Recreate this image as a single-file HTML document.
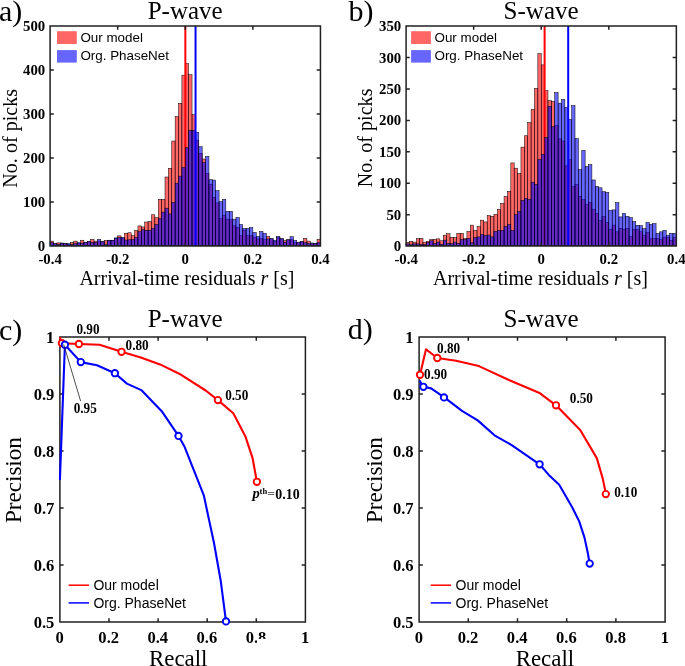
<!DOCTYPE html>
<html><head><meta charset="utf-8"><style>
html,body{margin:0;padding:0;background:#fff;}
svg{display:block;}
svg{will-change:transform}
</style></head><body>
<svg width="685" height="666" viewBox="0 0 685 666">
<rect width="685" height="666" fill="#fff"/>
<g fill="#ff0000" fill-opacity="0.6" stroke="#000" stroke-width="0.5"><rect x="50.1" y="241.11" width="3.38" height="4.39"/><rect x="53.48" y="243.74" width="3.38" height="1.76"/><rect x="56.86" y="242.87" width="3.38" height="2.63"/><rect x="60.24" y="243.09" width="3.38" height="2.41"/><rect x="63.62" y="243.61" width="3.38" height="1.89"/><rect x="67" y="244.4" width="3.38" height="1.1"/><rect x="70.38" y="242.43" width="3.38" height="3.07"/><rect x="73.76" y="241.11" width="3.38" height="4.39"/><rect x="77.13" y="243.31" width="3.38" height="2.19"/><rect x="80.51" y="240.23" width="3.38" height="5.27"/><rect x="83.89" y="242.43" width="3.38" height="3.07"/><rect x="87.27" y="241.55" width="3.38" height="3.95"/><rect x="90.65" y="239.35" width="3.38" height="6.15"/><rect x="94.03" y="241.11" width="3.38" height="4.39"/><rect x="97.41" y="241.11" width="3.38" height="4.39"/><rect x="100.79" y="241.72" width="3.38" height="3.78"/><rect x="104.17" y="240.45" width="3.38" height="5.05"/><rect x="107.55" y="240.23" width="3.38" height="5.27"/><rect x="110.93" y="240.23" width="3.38" height="5.27"/><rect x="114.31" y="238.04" width="3.38" height="7.46"/><rect x="117.69" y="235.84" width="3.38" height="9.66"/><rect x="121.07" y="238.04" width="3.38" height="7.46"/><rect x="124.45" y="233.21" width="3.38" height="12.29"/><rect x="127.83" y="232.77" width="3.38" height="12.73"/><rect x="131.2" y="235.58" width="3.38" height="9.92"/><rect x="134.58" y="230.57" width="3.38" height="14.93"/><rect x="137.96" y="225.92" width="3.38" height="19.58"/><rect x="141.34" y="226.93" width="3.38" height="18.57"/><rect x="144.72" y="222.01" width="3.38" height="23.49"/><rect x="148.1" y="221.57" width="3.38" height="23.93"/><rect x="151.48" y="214.77" width="3.38" height="30.73"/><rect x="154.86" y="217.58" width="3.38" height="27.92"/><rect x="158.24" y="199.41" width="3.38" height="46.09"/><rect x="161.62" y="199.41" width="3.38" height="46.09"/><rect x="165" y="177.02" width="3.38" height="68.48"/><rect x="168.38" y="168.24" width="3.38" height="77.26"/><rect x="171.76" y="141.02" width="3.38" height="104.48"/><rect x="175.14" y="116.43" width="3.38" height="129.07"/><rect x="178.52" y="103.26" width="3.38" height="142.24"/><rect x="181.9" y="75.17" width="3.38" height="170.33"/><rect x="185.27" y="63.31" width="3.38" height="182.19"/><rect x="188.65" y="74.73" width="3.38" height="170.77"/><rect x="192.03" y="114.68" width="3.38" height="130.82"/><rect x="195.41" y="140.14" width="3.38" height="105.36"/><rect x="198.79" y="153.31" width="3.38" height="92.19"/><rect x="202.17" y="159.02" width="3.38" height="86.48"/><rect x="205.55" y="173.5" width="3.38" height="72"/><rect x="208.93" y="184.48" width="3.38" height="61.02"/><rect x="212.31" y="197.21" width="3.38" height="48.29"/><rect x="215.69" y="202.92" width="3.38" height="42.58"/><rect x="219.07" y="218.72" width="3.38" height="26.78"/><rect x="222.45" y="215.21" width="3.38" height="30.29"/><rect x="225.83" y="219.16" width="3.38" height="26.34"/><rect x="229.21" y="219.6" width="3.38" height="25.9"/><rect x="232.59" y="225.75" width="3.38" height="19.75"/><rect x="235.97" y="227.5" width="3.38" height="18"/><rect x="239.34" y="235.4" width="3.38" height="10.1"/><rect x="242.72" y="230.13" width="3.38" height="15.37"/><rect x="246.1" y="235.4" width="3.38" height="10.1"/><rect x="249.48" y="235.4" width="3.38" height="10.1"/><rect x="252.86" y="237.16" width="3.38" height="8.34"/><rect x="256.24" y="238.91" width="3.38" height="6.58"/><rect x="259.62" y="238.48" width="3.38" height="7.02"/><rect x="263" y="239.57" width="3.38" height="5.93"/><rect x="266.38" y="236.28" width="3.38" height="9.22"/><rect x="269.76" y="238.91" width="3.38" height="6.58"/><rect x="273.14" y="241.55" width="3.38" height="3.95"/><rect x="276.52" y="237.6" width="3.38" height="7.9"/><rect x="279.9" y="238.91" width="3.38" height="6.58"/><rect x="283.28" y="240.67" width="3.38" height="4.83"/><rect x="286.66" y="239.79" width="3.38" height="5.71"/><rect x="290.04" y="239.79" width="3.38" height="5.71"/><rect x="293.41" y="242.65" width="3.38" height="2.85"/><rect x="296.79" y="242.87" width="3.38" height="2.63"/><rect x="300.17" y="241.55" width="3.38" height="3.95"/><rect x="303.55" y="238.48" width="3.38" height="7.02"/><rect x="306.93" y="241.11" width="3.38" height="4.39"/><rect x="310.31" y="243.09" width="3.38" height="2.41"/><rect x="313.69" y="243.31" width="3.38" height="2.19"/><rect x="317.07" y="239.35" width="3.38" height="6.15"/></g>
<line x1="185.35" y1="26" x2="185.35" y2="245.5" stroke="#ff0000" stroke-width="2"/>
<g fill="#0000ff" fill-opacity="0.6" stroke="#000" stroke-width="0.5"><rect x="50.1" y="242.43" width="3.38" height="3.07"/><rect x="53.48" y="243.74" width="3.38" height="1.76"/><rect x="56.86" y="244.4" width="3.38" height="1.1"/><rect x="60.24" y="243.09" width="3.38" height="2.41"/><rect x="63.62" y="243.61" width="3.38" height="1.89"/><rect x="67" y="243.61" width="3.38" height="1.89"/><rect x="70.38" y="244.4" width="3.38" height="1.1"/><rect x="73.76" y="243.74" width="3.38" height="1.76"/><rect x="77.13" y="242.56" width="3.38" height="2.94"/><rect x="80.51" y="243.09" width="3.38" height="2.41"/><rect x="83.89" y="242.43" width="3.38" height="3.07"/><rect x="87.27" y="241.55" width="3.38" height="3.95"/><rect x="90.65" y="242.43" width="3.38" height="3.07"/><rect x="94.03" y="242.43" width="3.38" height="3.07"/><rect x="97.41" y="239.35" width="3.38" height="6.15"/><rect x="100.79" y="241.72" width="3.38" height="3.78"/><rect x="104.17" y="244.62" width="3.38" height="0.88"/><rect x="107.55" y="240.23" width="3.38" height="5.27"/><rect x="110.93" y="240.23" width="3.38" height="5.27"/><rect x="114.31" y="238.04" width="3.38" height="7.46"/><rect x="117.69" y="237.38" width="3.38" height="8.12"/><rect x="121.07" y="237.38" width="3.38" height="8.12"/><rect x="124.45" y="240.01" width="3.38" height="5.49"/><rect x="127.83" y="239.79" width="3.38" height="5.71"/><rect x="131.2" y="239.57" width="3.38" height="5.93"/><rect x="134.58" y="237.42" width="3.38" height="8.08"/><rect x="137.96" y="231.67" width="3.38" height="13.83"/><rect x="141.34" y="229.52" width="3.38" height="15.98"/><rect x="144.72" y="230.22" width="3.38" height="15.28"/><rect x="148.1" y="230.22" width="3.38" height="15.28"/><rect x="151.48" y="228.38" width="3.38" height="17.12"/><rect x="154.86" y="224.43" width="3.38" height="21.07"/><rect x="158.24" y="218.72" width="3.38" height="26.78"/><rect x="161.62" y="212.14" width="3.38" height="33.36"/><rect x="165" y="208.19" width="3.38" height="37.31"/><rect x="168.38" y="213.89" width="3.38" height="31.61"/><rect x="171.76" y="202.48" width="3.38" height="43.02"/><rect x="175.14" y="183.16" width="3.38" height="62.34"/><rect x="178.52" y="176.14" width="3.38" height="69.36"/><rect x="181.9" y="167.36" width="3.38" height="78.14"/><rect x="185.27" y="147.6" width="3.38" height="97.9"/><rect x="188.65" y="130.48" width="3.38" height="115.02"/><rect x="192.03" y="130.48" width="3.38" height="115.02"/><rect x="195.41" y="132.24" width="3.38" height="113.26"/><rect x="198.79" y="146.72" width="3.38" height="98.78"/><rect x="202.17" y="162.53" width="3.38" height="82.97"/><rect x="205.55" y="156.38" width="3.38" height="89.12"/><rect x="208.93" y="179.65" width="3.38" height="65.85"/><rect x="212.31" y="180.09" width="3.38" height="65.41"/><rect x="215.69" y="190.62" width="3.38" height="54.88"/><rect x="219.07" y="201.6" width="3.38" height="43.9"/><rect x="222.45" y="199.41" width="3.38" height="46.09"/><rect x="225.83" y="211.26" width="3.38" height="34.24"/><rect x="229.21" y="211.26" width="3.38" height="34.24"/><rect x="232.59" y="219.16" width="3.38" height="26.34"/><rect x="235.97" y="217.4" width="3.38" height="28.1"/><rect x="239.34" y="224.43" width="3.38" height="21.07"/><rect x="242.72" y="228.38" width="3.38" height="17.12"/><rect x="246.1" y="228.38" width="3.38" height="17.12"/><rect x="249.48" y="227.5" width="3.38" height="18"/><rect x="252.86" y="232.33" width="3.38" height="13.17"/><rect x="256.24" y="236.28" width="3.38" height="9.22"/><rect x="259.62" y="231.45" width="3.38" height="14.05"/><rect x="263" y="233.21" width="3.38" height="12.29"/><rect x="266.38" y="238.91" width="3.38" height="6.58"/><rect x="269.76" y="238.48" width="3.38" height="7.02"/><rect x="273.14" y="240.23" width="3.38" height="5.27"/><rect x="276.52" y="236.46" width="3.38" height="9.04"/><rect x="279.9" y="238.48" width="3.38" height="7.02"/><rect x="283.28" y="242.43" width="3.38" height="3.07"/><rect x="286.66" y="239.79" width="3.38" height="5.71"/><rect x="290.04" y="236.72" width="3.38" height="8.78"/><rect x="293.41" y="240.45" width="3.38" height="5.05"/><rect x="296.79" y="242.21" width="3.38" height="3.29"/><rect x="300.17" y="241.55" width="3.38" height="3.95"/><rect x="303.55" y="242.65" width="3.38" height="2.85"/><rect x="306.93" y="243.31" width="3.38" height="2.19"/><rect x="310.31" y="243.09" width="3.38" height="2.41"/><rect x="313.69" y="243.31" width="3.38" height="2.19"/><rect x="317.07" y="242.43" width="3.38" height="3.07"/></g>
<line x1="195.55" y1="26" x2="195.55" y2="245.5" stroke="#0000ff" stroke-width="2"/>
<path d="M50.1 26.05H320.45V246.1H50.1ZM117.69 246.1V242.4M117.69 26.05V29.75M185.27 246.1V242.4M185.27 26.05V29.75M252.86 246.1V242.4M252.86 26.05V29.75M50.1 202.09H53.8M320.45 202.09H316.75M50.1 158.08H53.8M320.45 158.08H316.75M50.1 114.07H53.8M320.45 114.07H316.75M50.1 70.06H53.8M320.45 70.06H316.75" fill="none" stroke="#202020" stroke-width="1.5" stroke-linejoin="miter"/>
<g fill="#ff0000" fill-opacity="0.6" stroke="#000" stroke-width="0.5"><rect x="406.1" y="242.36" width="3.38" height="3.14"/><rect x="409.48" y="241.3" width="3.38" height="4.2"/><rect x="412.86" y="242.11" width="3.38" height="3.39"/><rect x="416.23" y="238.73" width="3.38" height="6.77"/><rect x="419.61" y="238.23" width="3.38" height="7.27"/><rect x="422.99" y="242.11" width="3.38" height="3.39"/><rect x="426.37" y="241.3" width="3.38" height="4.2"/><rect x="429.75" y="239.48" width="3.38" height="6.02"/><rect x="433.12" y="239.48" width="3.38" height="6.02"/><rect x="436.5" y="238.85" width="3.38" height="6.65"/><rect x="439.88" y="240.8" width="3.38" height="4.7"/><rect x="443.26" y="235.15" width="3.38" height="10.35"/><rect x="446.64" y="233.65" width="3.38" height="11.85"/><rect x="450.02" y="237.22" width="3.38" height="8.28"/><rect x="453.39" y="237.54" width="3.38" height="7.96"/><rect x="456.77" y="233.33" width="3.38" height="12.17"/><rect x="460.15" y="233.33" width="3.38" height="12.17"/><rect x="463.53" y="238.48" width="3.38" height="7.02"/><rect x="466.91" y="231.39" width="3.38" height="14.11"/><rect x="470.28" y="225.12" width="3.38" height="20.38"/><rect x="473.66" y="230.39" width="3.38" height="15.11"/><rect x="477.04" y="226.43" width="3.38" height="19.07"/><rect x="480.42" y="220.16" width="3.38" height="25.34"/><rect x="483.8" y="221.92" width="3.38" height="23.58"/><rect x="487.18" y="215.52" width="3.38" height="29.98"/><rect x="490.55" y="216.28" width="3.38" height="29.22"/><rect x="493.93" y="214.33" width="3.38" height="31.17"/><rect x="497.31" y="209.25" width="3.38" height="36.25"/><rect x="500.69" y="203.42" width="3.38" height="42.08"/><rect x="504.07" y="196.46" width="3.38" height="49.04"/><rect x="507.44" y="191.31" width="3.38" height="54.19"/><rect x="510.82" y="162.91" width="3.38" height="82.59"/><rect x="514.2" y="168.17" width="3.38" height="77.33"/><rect x="517.58" y="173.5" width="3.38" height="72"/><rect x="520.96" y="147.1" width="3.38" height="98.4"/><rect x="524.33" y="135.75" width="3.38" height="109.75"/><rect x="527.71" y="122.58" width="3.38" height="122.92"/><rect x="531.09" y="109.41" width="3.38" height="136.09"/><rect x="534.47" y="88.4" width="3.38" height="157.1"/><rect x="537.85" y="53.59" width="3.38" height="191.91"/><rect x="541.23" y="64.88" width="3.38" height="180.62"/><rect x="544.6" y="90.6" width="3.38" height="154.9"/><rect x="547.98" y="100.63" width="3.38" height="144.87"/><rect x="551.36" y="101.26" width="3.38" height="144.24"/><rect x="554.74" y="125.72" width="3.38" height="119.78"/><rect x="558.12" y="138.89" width="3.38" height="106.61"/><rect x="561.49" y="141.02" width="3.38" height="104.48"/><rect x="564.87" y="165.85" width="3.38" height="79.65"/><rect x="568.25" y="159.58" width="3.38" height="85.92"/><rect x="571.63" y="186.55" width="3.38" height="58.95"/><rect x="575.01" y="184.67" width="3.38" height="60.83"/><rect x="578.38" y="196.33" width="3.38" height="49.17"/><rect x="581.76" y="199.47" width="3.38" height="46.03"/><rect x="585.14" y="204.48" width="3.38" height="41.02"/><rect x="588.52" y="202.35" width="3.38" height="43.15"/><rect x="591.9" y="209.19" width="3.38" height="36.31"/><rect x="595.27" y="213.33" width="3.38" height="32.17"/><rect x="598.65" y="220.41" width="3.38" height="25.09"/><rect x="602.03" y="216.59" width="3.38" height="28.91"/><rect x="605.41" y="222.3" width="3.38" height="23.2"/><rect x="608.79" y="229.13" width="3.38" height="16.37"/><rect x="612.17" y="225.12" width="3.38" height="20.38"/><rect x="615.54" y="231.83" width="3.38" height="13.67"/><rect x="618.92" y="228.32" width="3.38" height="17.18"/><rect x="622.3" y="229.13" width="3.38" height="16.37"/><rect x="625.68" y="228.5" width="3.38" height="17"/><rect x="629.06" y="236.41" width="3.38" height="9.09"/><rect x="632.43" y="229.38" width="3.38" height="16.12"/><rect x="635.81" y="229.38" width="3.38" height="16.12"/><rect x="639.19" y="231.77" width="3.38" height="13.73"/><rect x="642.57" y="235.15" width="3.38" height="10.35"/><rect x="645.95" y="232.58" width="3.38" height="12.92"/><rect x="649.33" y="238.54" width="3.38" height="6.96"/><rect x="652.7" y="238.54" width="3.38" height="6.96"/><rect x="656.08" y="238.54" width="3.38" height="6.96"/><rect x="659.46" y="239.67" width="3.38" height="5.83"/><rect x="662.84" y="237.1" width="3.38" height="8.4"/><rect x="666.22" y="237.35" width="3.38" height="8.15"/><rect x="669.59" y="240.23" width="3.38" height="5.27"/><rect x="672.97" y="237.66" width="3.38" height="7.84"/></g>
<line x1="544.6" y1="26" x2="544.6" y2="245.5" stroke="#ff0000" stroke-width="2"/>
<g fill="#0000ff" fill-opacity="0.6" stroke="#000" stroke-width="0.5"><rect x="406.1" y="243.87" width="3.38" height="1.63"/><rect x="409.48" y="244.37" width="3.38" height="1.13"/><rect x="412.86" y="243.87" width="3.38" height="1.63"/><rect x="416.23" y="243.87" width="3.38" height="1.63"/><rect x="419.61" y="244.37" width="3.38" height="1.13"/><rect x="422.99" y="244.37" width="3.38" height="1.13"/><rect x="426.37" y="242.62" width="3.38" height="2.88"/><rect x="429.75" y="240.8" width="3.38" height="4.7"/><rect x="433.12" y="243.56" width="3.38" height="1.94"/><rect x="436.5" y="242.05" width="3.38" height="3.45"/><rect x="439.88" y="244.18" width="3.38" height="1.32"/><rect x="443.26" y="240.11" width="3.38" height="5.39"/><rect x="446.64" y="243.37" width="3.38" height="2.13"/><rect x="450.02" y="243.56" width="3.38" height="1.94"/><rect x="453.39" y="242.05" width="3.38" height="3.45"/><rect x="456.77" y="243.18" width="3.38" height="2.32"/><rect x="460.15" y="239.54" width="3.38" height="5.96"/><rect x="463.53" y="239.54" width="3.38" height="5.96"/><rect x="466.91" y="238.29" width="3.38" height="7.21"/><rect x="470.28" y="242.68" width="3.38" height="2.82"/><rect x="473.66" y="237.66" width="3.38" height="7.84"/><rect x="477.04" y="236.91" width="3.38" height="8.59"/><rect x="480.42" y="234.46" width="3.38" height="11.04"/><rect x="483.8" y="235.47" width="3.38" height="10.03"/><rect x="487.18" y="235.03" width="3.38" height="10.47"/><rect x="490.55" y="236.91" width="3.38" height="8.59"/><rect x="493.93" y="231.33" width="3.38" height="14.17"/><rect x="497.31" y="230.39" width="3.38" height="15.11"/><rect x="500.69" y="230.39" width="3.38" height="15.11"/><rect x="504.07" y="226.43" width="3.38" height="19.07"/><rect x="507.44" y="224.55" width="3.38" height="20.95"/><rect x="510.82" y="230.39" width="3.38" height="15.11"/><rect x="514.2" y="214.64" width="3.38" height="30.86"/><rect x="517.58" y="211.45" width="3.38" height="34.05"/><rect x="520.96" y="200.41" width="3.38" height="45.09"/><rect x="524.33" y="198.4" width="3.38" height="47.1"/><rect x="527.71" y="199.41" width="3.38" height="46.09"/><rect x="531.09" y="182.16" width="3.38" height="63.34"/><rect x="534.47" y="184.42" width="3.38" height="61.08"/><rect x="537.85" y="159.58" width="3.38" height="85.92"/><rect x="541.23" y="154.25" width="3.38" height="91.25"/><rect x="544.6" y="137.63" width="3.38" height="107.87"/><rect x="547.98" y="106.27" width="3.38" height="139.23"/><rect x="551.36" y="126.66" width="3.38" height="118.84"/><rect x="554.74" y="92.48" width="3.38" height="153.02"/><rect x="558.12" y="103.14" width="3.38" height="142.36"/><rect x="561.49" y="99.38" width="3.38" height="146.12"/><rect x="564.87" y="107.22" width="3.38" height="138.28"/><rect x="568.25" y="119.44" width="3.38" height="126.06"/><rect x="571.63" y="105.65" width="3.38" height="139.85"/><rect x="575.01" y="138.51" width="3.38" height="106.99"/><rect x="578.38" y="169.62" width="3.38" height="75.88"/><rect x="581.76" y="150.43" width="3.38" height="95.07"/><rect x="585.14" y="166.48" width="3.38" height="79.02"/><rect x="588.52" y="164.6" width="3.38" height="80.9"/><rect x="591.9" y="179.96" width="3.38" height="65.54"/><rect x="595.27" y="186.36" width="3.38" height="59.14"/><rect x="598.65" y="187.8" width="3.38" height="57.7"/><rect x="602.03" y="191.63" width="3.38" height="53.87"/><rect x="605.41" y="192.38" width="3.38" height="53.12"/><rect x="608.79" y="210.19" width="3.38" height="35.31"/><rect x="612.17" y="209.88" width="3.38" height="35.62"/><rect x="615.54" y="202.6" width="3.38" height="42.9"/><rect x="618.92" y="216.9" width="3.38" height="28.6"/><rect x="622.3" y="213.45" width="3.38" height="32.05"/><rect x="625.68" y="216.4" width="3.38" height="29.1"/><rect x="629.06" y="217.53" width="3.38" height="27.97"/><rect x="632.43" y="221.35" width="3.38" height="24.14"/><rect x="635.81" y="225.24" width="3.38" height="20.26"/><rect x="639.19" y="225.49" width="3.38" height="20.01"/><rect x="642.57" y="228.63" width="3.38" height="16.87"/><rect x="645.95" y="222.48" width="3.38" height="23.02"/><rect x="649.33" y="224.37" width="3.38" height="21.13"/><rect x="652.7" y="223.55" width="3.38" height="21.95"/><rect x="656.08" y="233.4" width="3.38" height="12.1"/><rect x="659.46" y="231.83" width="3.38" height="13.67"/><rect x="662.84" y="230.32" width="3.38" height="15.18"/><rect x="666.22" y="235.15" width="3.38" height="10.35"/><rect x="669.59" y="233.4" width="3.38" height="12.1"/><rect x="672.97" y="233.4" width="3.38" height="12.1"/></g>
<line x1="568.2" y1="26" x2="568.2" y2="245.5" stroke="#0000ff" stroke-width="2"/>
<path d="M406.1 26.1H676.35V246.1H406.1ZM473.66 246.1V242.4M473.66 26.1V29.8M541.23 246.1V242.4M541.23 26.1V29.8M608.79 246.1V242.4M608.79 26.1V29.8M406.1 214.67H409.8M676.35 214.67H672.65M406.1 183.24H409.8M676.35 183.24H672.65M406.1 151.81H409.8M676.35 151.81H672.65M406.1 120.39H409.8M676.35 120.39H672.65M406.1 88.96H409.8M676.35 88.96H672.65M406.1 57.53H409.8M676.35 57.53H672.65" fill="none" stroke="#202020" stroke-width="1.5" stroke-linejoin="miter"/>
<text x="185.2" y="18.6" font-family="Liberation Serif" font-size="25" font-weight="normal" text-anchor="middle">P-wave</text>
<text x="-1" y="20.6" font-family="Liberation Serif" font-size="30" font-weight="normal" text-anchor="start">a)</text>
<text x="45.2" y="251.1" font-family="Liberation Serif" font-size="14.8" font-weight="bold" text-anchor="end">0</text>
<text x="45.2" y="207.09" font-family="Liberation Serif" font-size="14.8" font-weight="bold" text-anchor="end">100</text>
<text x="45.2" y="163.08" font-family="Liberation Serif" font-size="14.8" font-weight="bold" text-anchor="end">200</text>
<text x="45.2" y="119.07" font-family="Liberation Serif" font-size="14.8" font-weight="bold" text-anchor="end">300</text>
<text x="45.2" y="75.06" font-family="Liberation Serif" font-size="14.8" font-weight="bold" text-anchor="end">400</text>
<text x="45.2" y="31.05" font-family="Liberation Serif" font-size="14.8" font-weight="bold" text-anchor="end">500</text>
<text x="50.1" y="264" font-family="Liberation Serif" font-size="14.8" font-weight="bold" text-anchor="middle">-0.4</text>
<text x="117.69" y="264" font-family="Liberation Serif" font-size="14.8" font-weight="bold" text-anchor="middle">-0.2</text>
<text x="185.27" y="264" font-family="Liberation Serif" font-size="14.8" font-weight="bold" text-anchor="middle">0</text>
<text x="252.86" y="264" font-family="Liberation Serif" font-size="14.8" font-weight="bold" text-anchor="middle">0.2</text>
<text x="320.45" y="264" font-family="Liberation Serif" font-size="14.8" font-weight="bold" text-anchor="middle">0.4</text>
<text x="186.88" y="285" font-family="Liberation Serif" font-size="20" text-anchor="middle" dy="0.4">Arrival-time residuals <tspan font-style="italic">r</tspan> [s]</text>
<text transform="translate(16.8 138.3) rotate(-90)" font-family="Liberation Serif" font-size="20.1" font-weight="normal" text-anchor="middle">No. of picks</text>
<rect x="57" y="31.2" width="19.8" height="12.8" fill="#ff0000" fill-opacity="0.6"/>
<rect x="57" y="50.1" width="19.8" height="12.5" fill="#0000ff" fill-opacity="0.6"/>
<text x="80.4" y="42" font-family="Liberation Sans" font-size="13.4" font-weight="normal" text-anchor="start">Our model</text>
<text x="80.4" y="60.4" font-family="Liberation Sans" font-size="13.4" font-weight="normal" text-anchor="start">Org. PhaseNet</text>
<text x="541.1" y="18.6" font-family="Liberation Serif" font-size="25" font-weight="normal" text-anchor="middle">S-wave</text>
<text x="348.5" y="20.6" font-family="Liberation Serif" font-size="30" font-weight="normal" text-anchor="start">b)</text>
<text x="401.2" y="251.1" font-family="Liberation Serif" font-size="14.8" font-weight="bold" text-anchor="end">0</text>
<text x="401.2" y="219.67" font-family="Liberation Serif" font-size="14.8" font-weight="bold" text-anchor="end">50</text>
<text x="401.2" y="188.24" font-family="Liberation Serif" font-size="14.8" font-weight="bold" text-anchor="end">100</text>
<text x="401.2" y="156.81" font-family="Liberation Serif" font-size="14.8" font-weight="bold" text-anchor="end">150</text>
<text x="401.2" y="125.39" font-family="Liberation Serif" font-size="14.8" font-weight="bold" text-anchor="end">200</text>
<text x="401.2" y="93.96" font-family="Liberation Serif" font-size="14.8" font-weight="bold" text-anchor="end">250</text>
<text x="401.2" y="62.53" font-family="Liberation Serif" font-size="14.8" font-weight="bold" text-anchor="end">300</text>
<text x="401.2" y="31.1" font-family="Liberation Serif" font-size="14.8" font-weight="bold" text-anchor="end">350</text>
<text x="406.1" y="264" font-family="Liberation Serif" font-size="14.8" font-weight="bold" text-anchor="middle">-0.4</text>
<text x="473.66" y="264" font-family="Liberation Serif" font-size="14.8" font-weight="bold" text-anchor="middle">-0.2</text>
<text x="541.23" y="264" font-family="Liberation Serif" font-size="14.8" font-weight="bold" text-anchor="middle">0</text>
<text x="608.79" y="264" font-family="Liberation Serif" font-size="14.8" font-weight="bold" text-anchor="middle">0.2</text>
<text x="676.35" y="264" font-family="Liberation Serif" font-size="14.8" font-weight="bold" text-anchor="middle">0.4</text>
<text x="540.48" y="285" font-family="Liberation Serif" font-size="20" text-anchor="middle" dy="0.4">Arrival-time residuals <tspan font-style="italic">r</tspan> [s]</text>
<text transform="translate(371.8 137.9) rotate(-90)" font-family="Liberation Serif" font-size="20.1" font-weight="normal" text-anchor="middle">No. of picks</text>
<rect x="411.1" y="31.2" width="19.8" height="12.8" fill="#ff0000" fill-opacity="0.6"/>
<rect x="411.1" y="50.1" width="19.8" height="12.5" fill="#0000ff" fill-opacity="0.6"/>
<text x="434.5" y="42" font-family="Liberation Sans" font-size="13.4" font-weight="normal" text-anchor="start">Our model</text>
<text x="434.5" y="60.4" font-family="Liberation Sans" font-size="13.4" font-weight="normal" text-anchor="start">Org. PhaseNet</text>
<path d="M59.9 337H305.4V621.9H59.9ZM109 621.9V618.2M109 337V340.7M158.1 621.9V618.2M158.1 337V340.7M207.2 621.9V618.2M207.2 337V340.7M256.3 621.9V618.2M256.3 337V340.7M59.9 564.92H63.6M305.4 564.92H301.7M59.9 507.94H63.6M305.4 507.94H301.7M59.9 450.96H63.6M305.4 450.96H301.7M59.9 393.98H63.6M305.4 393.98H301.7" fill="none" stroke="#202020" stroke-width="1.5" stroke-linejoin="miter"/>
<text x="185.2" y="326.6" font-family="Liberation Serif" font-size="25" font-weight="normal" text-anchor="middle">P-wave</text>
<text x="-1" y="340" font-family="Liberation Serif" font-size="30" font-weight="normal" text-anchor="start">c)</text>
<text transform="translate(54.4 628.2) scale(0.975 1.03)" font-family="Liberation Serif" font-size="17" font-weight="bold" text-anchor="end">0.5</text>
<text transform="translate(54.4 571.22) scale(0.975 1.03)" font-family="Liberation Serif" font-size="17" font-weight="bold" text-anchor="end">0.6</text>
<text transform="translate(54.4 514.24) scale(0.975 1.03)" font-family="Liberation Serif" font-size="17" font-weight="bold" text-anchor="end">0.7</text>
<text transform="translate(54.4 457.26) scale(0.975 1.03)" font-family="Liberation Serif" font-size="17" font-weight="bold" text-anchor="end">0.8</text>
<text transform="translate(54.4 400.28) scale(0.975 1.03)" font-family="Liberation Serif" font-size="17" font-weight="bold" text-anchor="end">0.9</text>
<text transform="translate(54.4 343.3) scale(0.975 1.03)" font-family="Liberation Serif" font-size="17" font-weight="bold" text-anchor="end">1</text>
<text transform="translate(59.6 642.6) scale(0.975 1.03)" font-family="Liberation Serif" font-size="17" font-weight="bold" text-anchor="middle">0</text>
<text transform="translate(108.7 642.6) scale(0.975 1.03)" font-family="Liberation Serif" font-size="17" font-weight="bold" text-anchor="middle">0.2</text>
<text transform="translate(157.8 642.6) scale(0.975 1.03)" font-family="Liberation Serif" font-size="17" font-weight="bold" text-anchor="middle">0.4</text>
<text transform="translate(206.9 642.6) scale(0.975 1.03)" font-family="Liberation Serif" font-size="17" font-weight="bold" text-anchor="middle">0.6</text>
<text transform="translate(256 642.6) scale(0.975 1.03)" font-family="Liberation Serif" font-size="17" font-weight="bold" text-anchor="middle">0.8</text>
<text transform="translate(305.1 642.6) scale(0.975 1.03)" font-family="Liberation Serif" font-size="17" font-weight="bold" text-anchor="middle">1</text>
<text x="178.2" y="665.6" font-family="Liberation Serif" font-size="22.9" font-weight="normal" text-anchor="middle">Recall</text>
<text transform="translate(20.6 480.1) rotate(-90)" font-family="Liberation Serif" font-size="23.1" font-weight="normal" text-anchor="middle">Precision</text>
<polyline points="59.8,337.2 61.9,343.2 78.9,344 99.6,344.8 121.5,351.8 140.8,357.4 160.1,364.4 179.2,373.7 205.7,390.5 217.9,400.1 233.3,413.3 245.3,436.2 252.5,457.8 256.9,481.8" fill="none" stroke="#ff0000" stroke-width="2.1" stroke-linejoin="round"/>
<circle cx="61.9" cy="343.2" r="3.2" fill="#fff" stroke="#ff0000" stroke-width="1.9"/><circle cx="78.9" cy="344" r="3.2" fill="#fff" stroke="#ff0000" stroke-width="1.9"/><circle cx="121.5" cy="351.8" r="3.2" fill="#fff" stroke="#ff0000" stroke-width="1.9"/><circle cx="217.9" cy="400.1" r="3.2" fill="#fff" stroke="#ff0000" stroke-width="1.9"/><circle cx="256.9" cy="481.8" r="3.2" fill="#fff" stroke="#ff0000" stroke-width="1.9"/>
<polyline points="59.9,479.9 64.9,344.7 80.8,362.1 97,365.3 114.9,373.2 126.9,383.6 141.3,390.1 161.7,411.2 178.5,435.9 184.3,446.2 203.8,495.3 214,543 220.8,581.3 226,621.4" fill="none" stroke="#0000ff" stroke-width="2.1" stroke-linejoin="round"/>
<circle cx="64.9" cy="344.7" r="3.2" fill="#fff" stroke="#0000ff" stroke-width="1.9"/><circle cx="80.8" cy="362.1" r="3.2" fill="#fff" stroke="#0000ff" stroke-width="1.9"/><circle cx="114.9" cy="373.2" r="3.2" fill="#fff" stroke="#0000ff" stroke-width="1.9"/><circle cx="178.5" cy="435.9" r="3.2" fill="#fff" stroke="#0000ff" stroke-width="1.9"/><circle cx="226" cy="621.4" r="3.2" fill="#fff" stroke="#0000ff" stroke-width="1.9"/>
<line x1="68.6" y1="585.2" x2="89" y2="585.2" stroke="#ff0000" stroke-width="1.5"/>
<line x1="68.6" y1="602.9" x2="89" y2="602.9" stroke="#0000ff" stroke-width="1.5"/>
<text x="93.4" y="590.3" font-family="Liberation Sans" font-size="14" font-weight="normal" text-anchor="start">Our model</text>
<text x="93.4" y="607.8" font-family="Liberation Sans" font-size="14" font-weight="normal" text-anchor="start">Org. PhaseNet</text>
<path d="M419.1 337H665.1V622H419.1ZM468.3 622V618.3M468.3 337V340.7M517.5 622V618.3M517.5 337V340.7M566.7 622V618.3M566.7 337V340.7M615.9 622V618.3M615.9 337V340.7M419.1 565H422.8M665.1 565H661.4M419.1 508H422.8M665.1 508H661.4M419.1 451H422.8M665.1 451H661.4M419.1 394H422.8M665.1 394H661.4" fill="none" stroke="#202020" stroke-width="1.5" stroke-linejoin="miter"/>
<text x="541.1" y="326.6" font-family="Liberation Serif" font-size="25" font-weight="normal" text-anchor="middle">S-wave</text>
<text x="347.8" y="339.2" font-family="Liberation Serif" font-size="30" font-weight="normal" text-anchor="start">d)</text>
<text transform="translate(413.6 628.3) scale(0.975 1.03)" font-family="Liberation Serif" font-size="17" font-weight="bold" text-anchor="end">0.5</text>
<text transform="translate(413.6 571.3) scale(0.975 1.03)" font-family="Liberation Serif" font-size="17" font-weight="bold" text-anchor="end">0.6</text>
<text transform="translate(413.6 514.3) scale(0.975 1.03)" font-family="Liberation Serif" font-size="17" font-weight="bold" text-anchor="end">0.7</text>
<text transform="translate(413.6 457.3) scale(0.975 1.03)" font-family="Liberation Serif" font-size="17" font-weight="bold" text-anchor="end">0.8</text>
<text transform="translate(413.6 400.3) scale(0.975 1.03)" font-family="Liberation Serif" font-size="17" font-weight="bold" text-anchor="end">0.9</text>
<text transform="translate(413.6 343.3) scale(0.975 1.03)" font-family="Liberation Serif" font-size="17" font-weight="bold" text-anchor="end">1</text>
<text transform="translate(418.8 642.6) scale(0.975 1.03)" font-family="Liberation Serif" font-size="17" font-weight="bold" text-anchor="middle">0</text>
<text transform="translate(468 642.6) scale(0.975 1.03)" font-family="Liberation Serif" font-size="17" font-weight="bold" text-anchor="middle">0.2</text>
<text transform="translate(517.2 642.6) scale(0.975 1.03)" font-family="Liberation Serif" font-size="17" font-weight="bold" text-anchor="middle">0.4</text>
<text transform="translate(566.4 642.6) scale(0.975 1.03)" font-family="Liberation Serif" font-size="17" font-weight="bold" text-anchor="middle">0.6</text>
<text transform="translate(615.6 642.6) scale(0.975 1.03)" font-family="Liberation Serif" font-size="17" font-weight="bold" text-anchor="middle">0.8</text>
<text transform="translate(664.8 642.6) scale(0.975 1.03)" font-family="Liberation Serif" font-size="17" font-weight="bold" text-anchor="middle">1</text>
<text x="544.9" y="665.6" font-family="Liberation Serif" font-size="22.9" font-weight="normal" text-anchor="middle">Recall</text>
<text transform="translate(381.5 480.1) rotate(-90)" font-family="Liberation Serif" font-size="23.1" font-weight="normal" text-anchor="middle">Precision</text>
<polyline points="420,374.8 426,349.3 437.3,358 456,360.8 478.9,366.1 508.9,380 540.1,393.3 556,405.3 580.2,430 596.8,458.1 602.7,478.4 604.9,489 605.8,494.1" fill="none" stroke="#ff0000" stroke-width="2.1" stroke-linejoin="round"/>
<circle cx="420" cy="374.8" r="3.2" fill="#fff" stroke="#ff0000" stroke-width="1.9"/><circle cx="437.3" cy="358" r="3.2" fill="#fff" stroke="#ff0000" stroke-width="1.9"/><circle cx="556" cy="405.3" r="3.2" fill="#fff" stroke="#ff0000" stroke-width="1.9"/><circle cx="605.8" cy="494.1" r="3.2" fill="#fff" stroke="#ff0000" stroke-width="1.9"/>
<polyline points="419.5,380.6 423.4,386.8 431.1,388.4 444.3,397.4 462,410.8 477.7,420.4 494.5,435.3 511.3,444.9 539.6,464.3 548.8,474.9 559.2,484.8 572.6,508 579.3,521.6 584.5,537.6 588,554 589.6,563.6" fill="none" stroke="#0000ff" stroke-width="2.1" stroke-linejoin="round"/>
<circle cx="423.4" cy="386.8" r="3.2" fill="#fff" stroke="#0000ff" stroke-width="1.9"/><circle cx="444" cy="397.4" r="3.2" fill="#fff" stroke="#0000ff" stroke-width="1.9"/><circle cx="539.6" cy="464.3" r="3.2" fill="#fff" stroke="#0000ff" stroke-width="1.9"/><circle cx="589.7" cy="563.6" r="3.2" fill="#fff" stroke="#0000ff" stroke-width="1.9"/>
<line x1="430.7" y1="585.2" x2="451.1" y2="585.2" stroke="#ff0000" stroke-width="1.5"/>
<line x1="430.7" y1="602.9" x2="451.1" y2="602.9" stroke="#0000ff" stroke-width="1.5"/>
<text x="455.5" y="590.3" font-family="Liberation Sans" font-size="14" font-weight="normal" text-anchor="start">Our model</text>
<text x="455.5" y="607.8" font-family="Liberation Sans" font-size="14" font-weight="normal" text-anchor="start">Org. PhaseNet</text>
<text transform="translate(76.4 334.2) scale(1 1.15)" font-family="Liberation Serif" font-size="13.2" font-weight="bold" text-anchor="start">0.90</text>
<text transform="translate(125.6 349.6) scale(1 1.15)" font-family="Liberation Serif" font-size="13.2" font-weight="bold" text-anchor="start">0.80</text>
<text transform="translate(73.7 413.2) scale(1 1.15)" font-family="Liberation Serif" font-size="13.2" font-weight="bold" text-anchor="start">0.95</text>
<text transform="translate(225.2 400.1) scale(1 1.15)" font-family="Liberation Serif" font-size="13.2" font-weight="bold" text-anchor="start">0.50</text>
<line x1="63.7" y1="344.4" x2="80.6" y2="401" stroke="#222" stroke-width="0.8"/>
<text x="252.6" y="498.3" font-family="Liberation Serif" font-size="14.5" font-weight="bold" font-style="italic">p</text>
<text x="259.6" y="494" font-family="Liberation Serif" font-size="8.6" font-weight="bold">th</text>
<text x="267.2" y="498.3" font-family="Liberation Serif" font-size="13.5" font-weight="bold" fill="#666">=</text>
<text x="275.3" y="498.7" font-family="Liberation Serif" font-size="13.9" font-weight="bold">0.10</text>
<text transform="translate(437.1 353.2) scale(1 1.15)" font-family="Liberation Serif" font-size="13.2" font-weight="bold" text-anchor="start">0.80</text>
<text transform="translate(424.1 378.9) scale(1 1.15)" font-family="Liberation Serif" font-size="13.2" font-weight="bold" text-anchor="start">0.90</text>
<text transform="translate(569.8 402.8) scale(1 1.15)" font-family="Liberation Serif" font-size="13.2" font-weight="bold" text-anchor="start">0.50</text>
<text transform="translate(614.2 496.5) scale(1 1.15)" font-family="Liberation Serif" font-size="13.2" font-weight="bold" text-anchor="start">0.10</text>
<rect x="257.2" y="638.9" width="12" height="5" fill="#fff"/>
</svg>
</body></html>
